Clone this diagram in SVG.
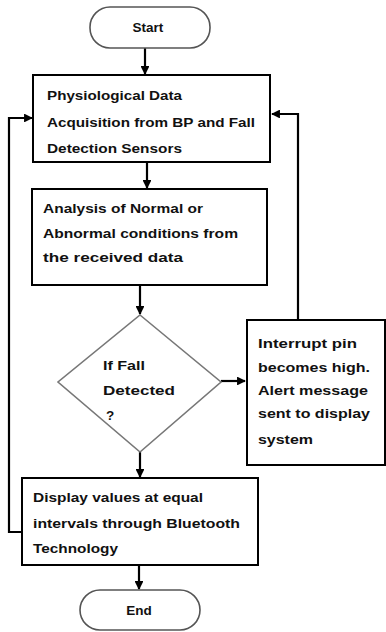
<svg xmlns="http://www.w3.org/2000/svg" width="386" height="632" viewBox="0 0 386 632">
<style>
text{font-family:"Liberation Sans",Arial,sans-serif;font-weight:bold;font-size:13.5px;fill:#111;}
.box{fill:#fff;stroke:#000;stroke-width:2;}
.term{fill:#fff;stroke:#555;stroke-width:1.6;}
.dia{fill:#fff;stroke:#777;stroke-width:1.6;}
.ln{fill:none;stroke:#000;stroke-width:2.2;}
</style>
<defs>
<marker id="ah" viewBox="0 0 10 10" refX="9" refY="5" markerWidth="4" markerHeight="4" orient="auto" markerUnits="strokeWidth">
<path d="M0,0 L10,5 L0,10 z" fill="#000"/>
</marker>
</defs>
<rect width="386" height="632" fill="#fff"/>
<g id="connectors">
<line class="ln" x1="145" y1="48" x2="145" y2="74" marker-end="url(#ah)"/>
<line class="ln" x1="147" y1="162" x2="147" y2="188" marker-end="url(#ah)"/>
<line class="ln" x1="140" y1="286" x2="140" y2="314" marker-end="url(#ah)"/>
<line class="ln" x1="221" y1="381" x2="245" y2="381" marker-end="url(#ah)"/>
<polyline class="ln" points="298,320 298,114 272,114" marker-end="url(#ah)"/>
<line class="ln" x1="140" y1="452" x2="140" y2="477" marker-end="url(#ah)"/>
<polyline class="ln" points="22,532 9,532 9,118 32,118" marker-end="url(#ah)"/>
<line class="ln" x1="139" y1="565" x2="139" y2="589" marker-end="url(#ah)"/>
</g>
<g id="start">
<rect class="term" x="90" y="7" width="120" height="41" rx="20" ry="20"/>
<text x="148" y="32" text-anchor="middle" font-size="12">Start</text>
</g>
<g id="acquisition">
<rect class="box" x="33" y="75" width="237" height="87"/>
<text x="47" y="100" textLength="135" lengthAdjust="spacingAndGlyphs">Physiological Data</text>
<text x="47" y="127" textLength="208" lengthAdjust="spacingAndGlyphs">Acquisition from BP and Fall</text>
<text x="47" y="153" textLength="135" lengthAdjust="spacingAndGlyphs">Detection Sensors</text>
</g>
<g id="analysis">
<rect class="box" x="32" y="189" width="235" height="96"/>
<text x="43" y="213" textLength="160" lengthAdjust="spacingAndGlyphs">Analysis of Normal or</text>
<text x="43" y="238" textLength="195" lengthAdjust="spacingAndGlyphs">Abnormal conditions from</text>
<text x="43" y="262" textLength="140" lengthAdjust="spacingAndGlyphs">the received data</text>
</g>
<g id="decision">
<polygon class="dia" points="140,315 221,382 140,452 58,382"/>
<text x="103" y="370" textLength="42" lengthAdjust="spacingAndGlyphs">If Fall</text>
<text x="103" y="395" textLength="72" lengthAdjust="spacingAndGlyphs">Detected</text>
<text x="106" y="420">?</text>
</g>
<g id="interrupt">
<rect class="box" x="247" y="320" width="138" height="145"/>
<text x="258" y="348" textLength="99" lengthAdjust="spacingAndGlyphs">Interrupt pin</text>
<text x="258" y="372" textLength="112" lengthAdjust="spacingAndGlyphs">becomes high.</text>
<text x="258" y="395" textLength="110" lengthAdjust="spacingAndGlyphs">Alert message</text>
<text x="258" y="418" textLength="112" lengthAdjust="spacingAndGlyphs">sent to display</text>
<text x="258" y="444" textLength="55" lengthAdjust="spacingAndGlyphs">system</text>
</g>
<g id="display">
<rect class="box" x="22" y="478" width="236" height="87"/>
<text x="33" y="502" textLength="170" lengthAdjust="spacingAndGlyphs">Display values at equal</text>
<text x="33" y="528" textLength="207" lengthAdjust="spacingAndGlyphs">intervals through Bluetooth</text>
<text x="33" y="553" textLength="85" lengthAdjust="spacingAndGlyphs">Technology</text>
</g>
<g id="end">
<rect class="term" x="80" y="590" width="120" height="40" rx="20" ry="20"/>
<text x="139" y="615" text-anchor="middle" font-size="12">End</text>
</g>
</svg>
